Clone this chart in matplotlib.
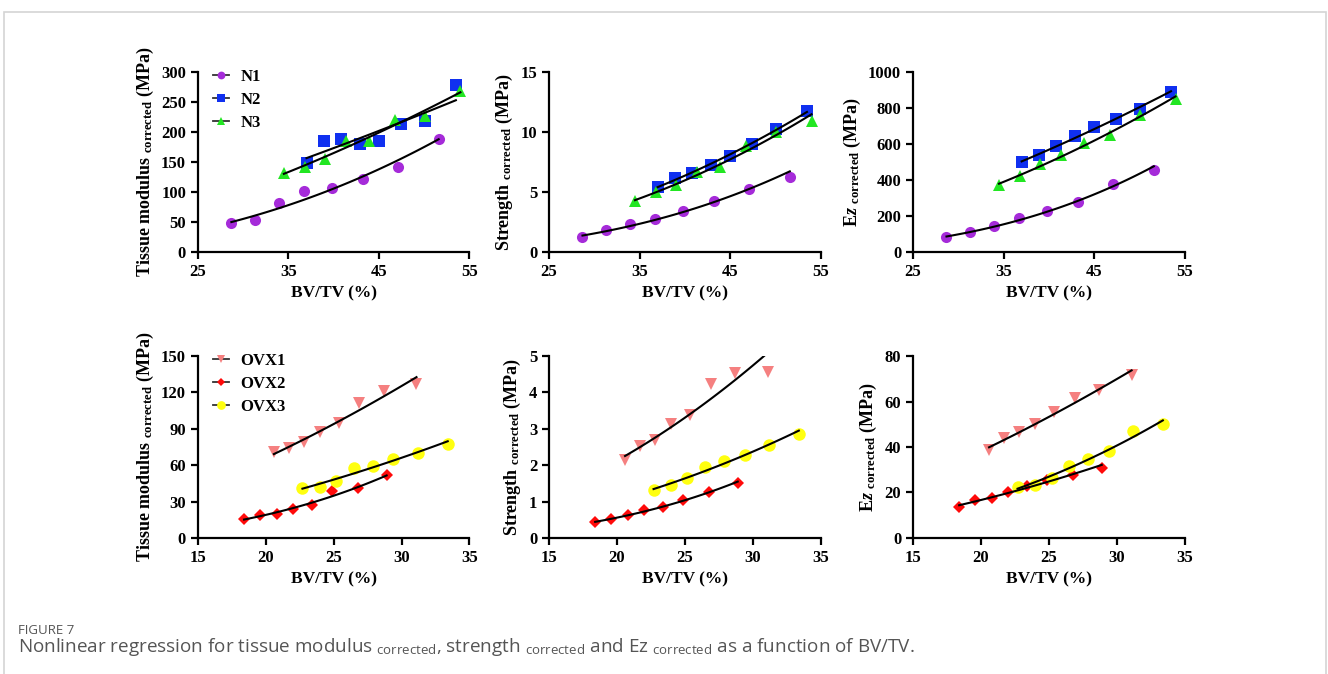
import numpy as np
import matplotlib
matplotlib.use("Agg")
import matplotlib.pyplot as plt
from matplotlib.lines import Line2D
from matplotlib.patches import Rectangle

plt.rcParams['font.family'] = 'Liberation Serif'
plt.rcParams['font.weight'] = 'bold'
plt.rcParams['mathtext.fontset'] = 'custom'
plt.rcParams['mathtext.rm'] = 'Open Sans:weight=normal'
plt.rcParams['mathtext.bf'] = 'Liberation Serif:bold'
plt.rcParams['mathtext.it'] = 'Liberation Serif:italic:bold'

# BV/TV (%) per group
x_n1 = [28.7, 31.3, 34.0, 36.7, 39.8, 43.2, 47.1, 51.6]
x_n2 = [37.0, 38.9, 40.8, 42.9, 45.0, 47.4, 50.1, 53.5]
x_n3 = [34.5, 36.8, 39.0, 41.4, 43.9, 46.8, 50.1, 54.0]
x_ovx1 = [20.6, 21.7, 22.8, 24.0, 25.4, 26.9, 28.7, 31.1]
x_ovx2 = [18.4, 19.6, 20.8, 22.0, 23.4, 24.9, 26.8, 28.9]
x_ovx3 = [22.7, 24.0, 25.2, 26.5, 27.9, 29.4, 31.2, 33.4]

# tissue modulus corrected (MPa)
tm_n1 = [48, 53, 82.5, 102, 106, 122, 141, 189]
tm_n2 = [149, 186, 188, 181, 186, 214, 218, 278]
tm_n3 = [131, 142, 155, 185, 186, 221, 227, 268]
tm_ovx1 = [70.5, 74, 79.5, 87, 94.6, 111.3, 121.4, 126.7]
tm_ovx2 = [15.9, 18.6, 20, 23.5, 27, 38.5, 41.5, 51.9]
tm_ovx3 = [41.5, 42, 47, 58, 59, 65, 70.2, 77.6]

# strength corrected (MPa)
st_n1 = [1.22, 1.8, 2.35, 2.76, 3.43, 4.28, 5.28, 6.22]
st_n2 = [5.39, 6.19, 6.6, 7.24, 8.04, 9.0, 10.3, 11.77]
st_n3 = [4.23, 4.97, 5.6, 6.71, 7.13, 8.84, 9.97, 10.9]
st_ovx1 = [2.13, 2.53, 2.69, 3.14, 3.39, 4.24, 4.54, 4.56]
st_ovx2 = [0.43, 0.52, 0.63, 0.78, 0.84, 1.04, 1.27, 1.50]
st_ovx3 = [1.32, 1.46, 1.65, 1.95, 2.12, 2.28, 2.55, 2.86]

# Ez corrected (MPa)
ez_n1 = [83, 109, 147, 188, 227, 276, 378, 455]
ez_n2 = [501, 538, 589, 643, 694, 740, 797, 891]
ez_n3 = [372, 420, 492, 538, 604, 650, 761, 851]
ez_ovx1 = [38.5, 43.8, 46.6, 49.9, 55.3, 61.6, 65, 71.6]
ez_ovx2 = [13.8, 16.5, 17.4, 20.3, 23, 25.3, 27.9, 30.9]
ez_ovx3 = [22.6, 23.5, 26.5, 31.5, 34.6, 38.1, 47.2, 49.9]

n_labels = ['N1', 'N2', 'N3']
ovx_labels = ['OVX1', 'OVX2', 'OVX3']

n_styles = [('o', '#A52BD9', 8), ('s', '#1030F0', 8), ('^', '#22E622', 8.5)]
ovx_styles = [('v', '#F58080', 8.5), ('D', '#FF0A0A', 6), ('o', '#FFFF10', 9)]


def power_fit(x, y):
    b, a = np.polyfit(np.log(x), np.log(y), 1)
    xs = np.linspace(min(x), max(x), 100)
    return xs, np.exp(a) * xs ** b


def draw_panel(ax, xs, ys, styles, ylabel, ylim, yticks, xlim, xticks):
    for x, y, (m, c, ms) in zip(xs, ys, styles):
        ax.plot(x, y, linestyle='none', marker=m, color=c, markersize=ms,
                markeredgewidth=0, zorder=3)
        fx, fy = power_fit(x, y)
        ax.plot(fx, fy, color='black', lw=1.5, zorder=4)
    ax.set_xlim(xlim)
    ax.set_ylim(ylim)
    ax.set_xticks(xticks)
    ax.set_yticks(yticks)
    for s in ['top', 'right']:
        ax.spines[s].set_visible(False)
    for s in ['left', 'bottom']:
        ax.spines[s].set_linewidth(1.6)
    ax.tick_params(width=1.6, length=5, labelsize=12)
    for lab in ax.get_xticklabels() + ax.get_yticklabels():
        lab.set_fontweight('bold')
    ax.set_xlabel('BV/TV (%)', fontsize=12.5, fontweight='bold', labelpad=4)
    ax.set_ylabel(ylabel, fontsize=13, fontweight='bold', labelpad=4)


fig = plt.figure(figsize=(13.28, 6.74), dpi=100)

lefts = [0.149, 0.4134, 0.6875]
w = 0.2045
top_b, top_h = 0.626, 0.267
bot_b, bot_h = 0.2018, 0.270

lab_tm = r'Tissue modulus $_{\mathbf{corrected}}$ (MPa)'
lab_st = r'Strength $_{\mathbf{corrected}}$ (MPa)'
lab_ez = r'E$\mathit{z}$ $_{\mathbf{corrected}}$ (MPa)'

n_x = [x_n1, x_n2, x_n3]
ovx_x = [x_ovx1, x_ovx2, x_ovx3]

ax1 = fig.add_axes([lefts[0], top_b, w, top_h])
draw_panel(ax1, n_x, [tm_n1, tm_n2, tm_n3], n_styles, lab_tm,
           (0, 300), range(0, 301, 50), (25, 55), [25, 35, 45, 55])
ax2 = fig.add_axes([lefts[1], top_b, w, top_h])
draw_panel(ax2, n_x, [st_n1, st_n2, st_n3], n_styles, lab_st,
           (0, 15), [0, 5, 10, 15], (25, 55), [25, 35, 45, 55])
ax3 = fig.add_axes([lefts[2], top_b, w, top_h])
draw_panel(ax3, n_x, [ez_n1, ez_n2, ez_n3], n_styles, lab_ez,
           (0, 1000), range(0, 1001, 200), (25, 55), [25, 35, 45, 55])

ax4 = fig.add_axes([lefts[0], bot_b, w, bot_h])
draw_panel(ax4, ovx_x, [tm_ovx1, tm_ovx2, tm_ovx3], ovx_styles, lab_tm,
           (0, 150), range(0, 151, 30), (15, 35), range(15, 36, 5))
ax5 = fig.add_axes([lefts[1], bot_b, w, bot_h])
draw_panel(ax5, ovx_x, [st_ovx1, st_ovx2, st_ovx3], ovx_styles, lab_st,
           (0, 5), range(0, 6), (15, 35), range(15, 36, 5))
ax6 = fig.add_axes([lefts[2], bot_b, w, bot_h])
draw_panel(ax6, ovx_x, [ez_ovx1, ez_ovx2, ez_ovx3], ovx_styles, lab_ez,
           (0, 80), range(0, 81, 20), (15, 35), range(15, 36, 5))

for ax, labels, styles in [(ax1, n_labels, n_styles), (ax4, ovx_labels, ovx_styles)]:
    handles = [Line2D([], [], color='#333333', lw=1.3, marker=m, markerfacecolor=c,
                      markeredgewidth=0, markersize=ms * 0.7)
               for (m, c, ms) in styles]
    ax.legend(handles, labels, loc='upper left', bbox_to_anchor=(0.055, 1.018),
              frameon=False, handlelength=0.95, handletextpad=0.7,
              labelspacing=0.42, borderaxespad=0, borderpad=0,
              prop={'family': 'Liberation Serif', 'weight': 'bold', 'size': 12})

# frame and caption
fig.add_artist(Rectangle((4 / 1328, -0.1), 1322 / 1328, 1.1 - 12 / 674,
                         transform=fig.transFigure, fill=False,
                         edgecolor='#d4d4d4', lw=1.2))
fig.text(18 / 1328, 1 - 630 / 674, 'FIGURE 7', family='Open Sans',
         fontweight='normal', fontsize=9.5, color='#555555', va='center')
fig.text(18 / 1328, 1 - 647 / 674,
         r'Nonlinear regression for tissue modulus $_{\mathrm{corrected}}$, '
         r'strength $_{\mathrm{corrected}}$ and Ez $_{\mathrm{corrected}}$ '
         r'as a function of BV/TV.',
         family='Open Sans', fontweight='normal', fontsize=13.6,
         color='#555555', va='center')

fig.savefig('out.png', dpi=100)
